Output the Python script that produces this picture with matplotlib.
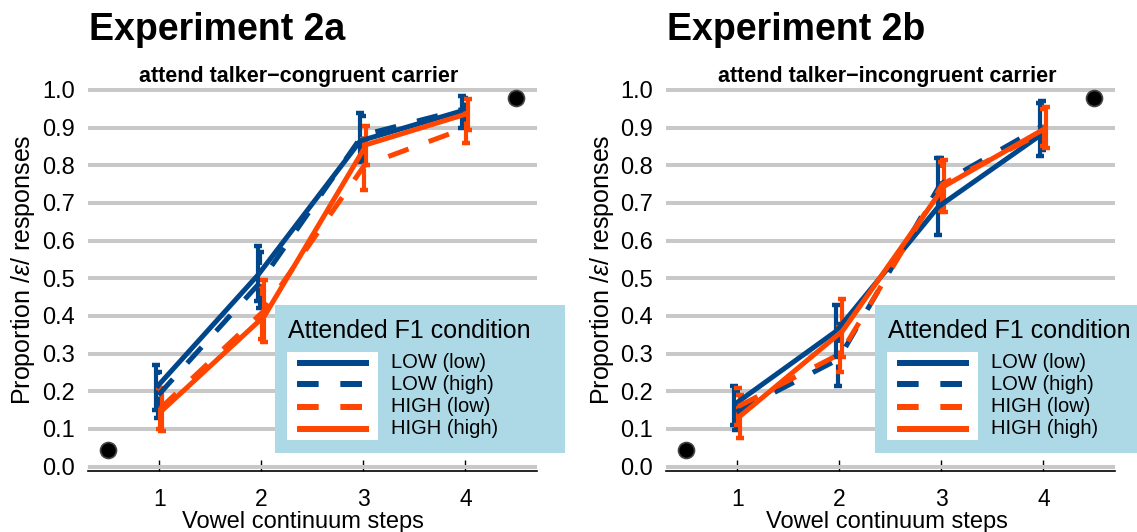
import matplotlib
matplotlib.use("Agg")
import numpy as np
import matplotlib.pyplot as plt
from matplotlib.lines import Line2D
from matplotlib.patches import Rectangle

plt.rcParams['font.family'] = ['Liberation Sans', 'DejaVu Sans']
plt.rcParams['mathtext.fontset'] = 'custom'
plt.rcParams['mathtext.rm'] = 'Liberation Sans'
plt.rcParams['mathtext.it'] = 'Liberation Sans:italic'
plt.rcParams['lines.scale_dashes'] = False

# ---------------- data ----------------
steps = [1, 2, 3, 4]
step_labels = ['1', '2', '3', '4']
series_names = ['LOW (low)', 'LOW (high)', 'HIGH (low)', 'HIGH (high)']
series_colors = ['#00468b', '#00468b', '#ff4500', '#ff4500']
series_dashed = [False, True, True, False]
yticks = [0.0, 0.1, 0.2, 0.3, 0.4, 0.5, 0.6, 0.7, 0.8, 0.9, 1.0]

# Experiment 2a (attend talker-congruent carrier)
exp2a_low_low = [0.21, 0.51, 0.865, 0.945]
exp2a_low_low_lo = [0.15, 0.44, 0.81, 0.90]
exp2a_low_low_hi = [0.27, 0.585, 0.94, 0.985]
exp2a_low_high = [0.19, 0.49, 0.88, 0.95]
exp2a_low_high_lo = [0.13, 0.42, 0.82, 0.91]
exp2a_low_high_hi = [0.25, 0.57, 0.93, 0.98]
exp2a_high_low = [0.155, 0.41, 0.80, 0.90]
exp2a_high_low_lo = [0.10, 0.34, 0.735, 0.86]
exp2a_high_low_hi = [0.21, 0.48, 0.87, 0.94]
exp2a_high_high = [0.15, 0.40, 0.855, 0.938]
exp2a_high_high_lo = [0.095, 0.33, 0.80, 0.895]
exp2a_high_high_hi = [0.205, 0.495, 0.905, 0.975]

# Experiment 2b (attend talker-incongruent carrier)
exp2b_low_low = [0.165, 0.36, 0.69, 0.88]
exp2b_low_low_lo = [0.11, 0.29, 0.615, 0.825]
exp2b_low_low_hi = [0.215, 0.43, 0.82, 0.965]
exp2b_low_high = [0.145, 0.285, 0.75, 0.905]
exp2b_low_high_lo = [0.097, 0.215, 0.68, 0.84]
exp2b_low_high_hi = [0.20, 0.38, 0.82, 0.97]
exp2b_high_low = [0.16, 0.30, 0.75, 0.89]
exp2b_high_low_lo = [0.11, 0.25, 0.68, 0.85]
exp2b_high_low_hi = [0.21, 0.37, 0.81, 0.95]
exp2b_high_high = [0.135, 0.36, 0.745, 0.90]
exp2b_high_high_lo = [0.076, 0.29, 0.675, 0.845]
exp2b_high_high_hi = [0.19, 0.445, 0.815, 0.955]

anchor_x = [0.5, 4.5]
anchor_y = [0.045, 0.98]

panels = [
    dict(title='Experiment 2a', subtitle='attend talker\u2212congruent carrier',
         means=[exp2a_low_low, exp2a_low_high, exp2a_high_low, exp2a_high_high],
         los=[exp2a_low_low_lo, exp2a_low_high_lo, exp2a_high_low_lo, exp2a_high_high_lo],
         his=[exp2a_low_low_hi, exp2a_low_high_hi, exp2a_high_low_hi, exp2a_high_high_hi],
         left=88, sub_cx=299, xlab_cx=303, ylab_x=23, leg_left=275),
    dict(title='Experiment 2b', subtitle='attend talker\u2212incongruent carrier',
         means=[exp2b_low_low, exp2b_low_high, exp2b_high_low, exp2b_high_high],
         los=[exp2b_low_low_lo, exp2b_low_high_lo, exp2b_high_low_lo, exp2b_high_high_lo],
         his=[exp2b_low_low_hi, exp2b_low_high_hi, exp2b_high_low_hi, exp2b_high_high_hi],
         left=666, sub_cx=887, xlab_cx=887, ylab_x=602, leg_left=875),
]

offsets = [-0.03, -0.01, 0.01, 0.03]
DASH = (0, (15.5, 15.5))

W, H = 1137, 532
fig = plt.figure(figsize=(W / 100, H / 100), dpi=100)


def fx(px):
    return px / W


def fy(py):
    return 1 - py / H


ax_bottom_px = 470.8
ax_top_px = 78.7
ax_w_px = 448.8

for p in panels:
    ax = fig.add_axes([fx(p['left']), fy(ax_bottom_px), ax_w_px / W,
                       (ax_bottom_px - ax_top_px) / H])
    ax.set_xlim(0.3, 4.7)
    ax.set_ylim(-0.011, 1.03)
    ax.set_facecolor('white')
    for i in range(4):
        xs = [s + offsets[i] for s in steps]
        ls = DASH if series_dashed[i] else '-'
        c = series_colors[i]
        ax.vlines(xs, p['los'][i], p['his'][i], colors=c, linewidth=3.0,
                  linestyles=[ls], zorder=3)
        ax.plot(xs, p['los'][i], linestyle='none', marker='_', ms=6, mew=3.2,
                color=c, zorder=3)
        ax.plot(xs, p['his'][i], linestyle='none', marker='_', ms=6, mew=3.2,
                color=c, zorder=3)
        ax.plot(xs, p['means'][i], color=c, linewidth=3.6, linestyle=ls,
                solid_capstyle='butt', dash_capstyle='butt', zorder=4)
    ax.plot(anchor_x, anchor_y, linestyle='none', marker='o', ms=11.5,
            color='black', mec='#444444', mew=1.2, zorder=5, clip_on=False)

    ax.set_yticks(yticks)
    ax.set_yticklabels(['%.1f' % v for v in yticks])
    ax.set_xticks(steps)
    ax.set_xticklabels(step_labels)
    ax.grid(axis='y', color='#c8c8c8', linewidth=2.9)
    ax.grid(axis='x', visible=False)
    ax.set_axisbelow(True)
    for s in ['left', 'top', 'right']:
        ax.spines[s].set_visible(False)
    ax.spines['bottom'].set_linewidth(1.2)
    ax.spines['bottom'].set_color('black')
    ax.tick_params(axis='y', length=0, pad=9.4, labelsize=17)
    ax.tick_params(axis='x', direction='in', length=8, width=1.0, pad=12.5,
                   labelsize=16.5)

    # titles and labels
    fig.text(fx(p['left'] + 1), fy(40), p['title'], fontsize=27,
             fontweight='bold', ha='left', va='baseline')
    fig.text(fx(p['sub_cx']), fy(82), p['subtitle'], fontsize=15.5,
             fontweight='bold', ha='center', va='baseline')
    fig.text(fx(p['xlab_cx']), fy(528), 'Vowel continuum steps', fontsize=17,
             ha='center', va='baseline')
    fig.text(fx(p['ylab_x']), fy(270), r'Proportion $\mathit{/\varepsilon/}$ responses',
             fontsize=18, rotation=90, ha='center', va='center')

    # legend (manual, in figure pixels)
    L = p['leg_left']
    fig.add_artist(Rectangle((fx(L), fy(453)), 290 / W, 148 / H,
                             transform=fig.transFigure, facecolor='#add8e6',
                             edgecolor='none', zorder=10))
    fig.add_artist(Rectangle((fx(L + 11.7), fy(440)), 91.6 / W, 87.7 / H,
                             transform=fig.transFigure, facecolor='white',
                             edgecolor='none', zorder=11))
    fig.text(fx(L + 13), fy(338), 'Attended F1 condition', fontsize=18,
             ha='left', va='baseline', zorder=12)
    ys = [362.7, 384.3, 406.7, 428.7]
    for i in range(4):
        fig.add_artist(Line2D([fx(L + 21.7), fx(L + 94.3)], [fy(ys[i]), fy(ys[i])],
                              transform=fig.transFigure, color=series_colors[i],
                              linewidth=4.3,
                              linestyle=(0, (15.6, 15.6)) if series_dashed[i] else '-',
                              solid_capstyle='butt', dash_capstyle='butt', zorder=12))
        fig.text(fx(L + 116), fy(ys[i]), series_names[i], fontsize=14.5,
                 ha='left', va='center', zorder=12)

fig.savefig('out.png', dpi=100)
